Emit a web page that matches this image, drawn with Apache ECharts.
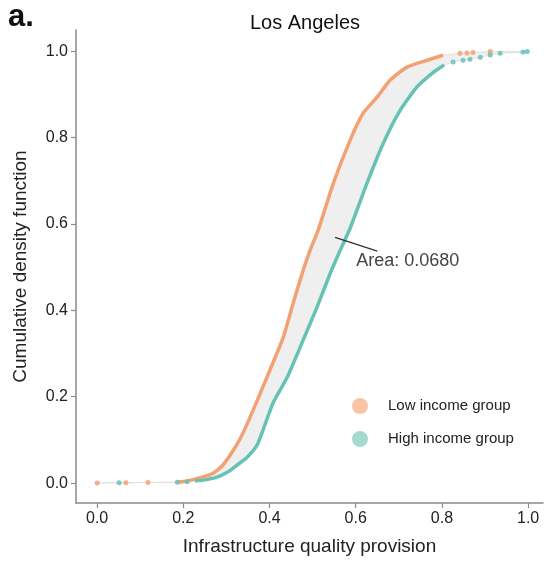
<!DOCTYPE html>
<html>
<head>
<meta charset="utf-8">
<script src="https://cdn.jsdelivr.net/npm/echarts@6/dist/echarts.min.js"></script>
<style>html,body{margin:0;padding:0;background:#fff;}#c{width:544px;height:562px;}</style>
</head>
<body>
<div id="c"></div>
<script>
// ---- data ----
const xTicks = [0, 0.2, 0.4, 0.6, 0.8, 1.0];
const yTicks = [0, 0.2, 0.4, 0.6, 0.8, 1.0];

// Low income group: dense part of the empirical CDF
const lowX = [0.186,0.209,0.244,0.269,0.292,0.316,0.336,0.362,0.401,0.432,0.455,0.476,0.494,0.513,0.548,0.587,0.617,0.650,0.680,0.719,0.766,0.803];
const lowY = [0.002,0.005,0.014,0.023,0.042,0.076,0.111,0.169,0.262,0.338,0.417,0.486,0.539,0.586,0.694,0.794,0.856,0.894,0.933,0.963,0.979,0.991];
// Low income group: isolated points in the tails
const lowTailX = [0.000,0.067,0.118,0.842,0.858,0.872,0.912];
const lowTailY = [0.0005,0.001,0.0015,0.995,0.996,0.997,0.999];

// High income group: dense part
const highX = [0.227,0.246,0.278,0.302,0.325,0.348,0.371,0.385,0.408,0.441,0.478,0.510,0.541,0.564,0.587,0.626,0.664,0.703,0.742,0.780,0.805];
const highY = [0.005,0.007,0.014,0.025,0.042,0.060,0.088,0.123,0.185,0.245,0.331,0.407,0.486,0.539,0.590,0.694,0.787,0.863,0.917,0.951,0.968];
// High income group: isolated tail points
const highTailX = [0.051,0.186,0.209,0.826,0.849,0.865,0.889,0.912,0.935,0.988,0.998];
const highTailY = [0.001,0.002,0.003,0.975,0.979,0.981,0.986,0.991,0.995,0.998,0.999];

const areaText = 'Area: 0.0680';
const annoFrom = [0.552, 0.569];
const annoTo = [0.650, 0.537];
const annoTextAt = [0.601, 0.514];

// ---- build ----
const zip = (xs, ys) => xs.map((x, i) => [x, ys[i]]);
const lowMain = zip(lowX, lowY), lowTail = zip(lowTailX, lowTailY);
const highMain = zip(highX, highY), highTail = zip(highTailX, highTailY);
const lowAll = lowMain.concat(lowTail).sort((a, b) => a[0] - b[0]);
const highAll = highMain.concat(highTail).sort((a, b) => a[0] - b[0]);

const ORANGE = '#F3A172', TEAL = '#67C2B6';
const chart = echarts.init(document.getElementById('c'));
const font = 'Liberation Sans, Arial, sans-serif';

chart.setOption({
  animation: false,
  backgroundColor: '#fff',
  title: {
    text: 'Los Angeles', left: 300, top: 8, textAlign: 'center',
    textStyle: {fontFamily: font, fontSize: 20, fontWeight: 'normal', color: '#111'}
  },
  graphic: [{
    type: 'text', left: 8, top: 2,
    style: {text: 'a.', font: 'bold 31px ' + font, fill: '#111'}
  }],
  legend: {
    orient: 'vertical', left: 347, top: 393, icon: 'circle',
    itemWidth: 46, itemHeight: 16, itemGap: 17,
    textStyle: {fontFamily: font, fontSize: 15, color: '#222'},
    data: [
      {name: 'Low income group', itemStyle: {color: '#F8C4A5'}},
      {name: 'High income group', itemStyle: {color: '#A7D9D3'}}
    ]
  },
  grid: {left: 76, right: 1, top: 30, bottom: 59},
  xAxis: {
    type: 'value', min: -0.049, max: 1.0345,
    name: 'Infrastructure quality provision', nameLocation: 'middle', nameGap: 34,
    nameTextStyle: {fontFamily: font, fontSize: 19, color: '#222'},
    axisLine: {onZero: false, lineStyle: {color: '#8a8a8a', width: 1.5}},
    axisTick: {length: 5, lineStyle: {color: '#8a8a8a', width: 1.2}, customValues: xTicks},
    axisLabel: {customValues: xTicks, margin: 8, fontFamily: font, fontSize: 16, color: '#222',
      formatter: v => v.toFixed(1)},
    splitLine: {show: false}
  },
  yAxis: {
    type: 'value', min: -0.046, max: 1.049,
    name: 'Cumulative density function', nameLocation: 'middle', nameGap: 46,
    nameTextStyle: {fontFamily: font, fontSize: 19, color: '#222'},
    axisLine: {onZero: false, lineStyle: {color: '#8a8a8a', width: 1.5}},
    axisTick: {length: 5, lineStyle: {color: '#8a8a8a', width: 1.2}, customValues: yTicks},
    axisLabel: {customValues: yTicks, margin: 8, fontFamily: font, fontSize: 16, color: '#222',
      formatter: v => v.toFixed(1)},
    splitLine: {show: false}
  },
  series: [
    {
      type: 'custom', name: 'fill', z: 1, silent: true, data: [[0, 0]],
      renderItem: (params, api) => {
        const pts = lowAll.map(p => api.coord(p)).concat(highAll.slice().reverse().map(p => api.coord(p)));
        return {type: 'polygon', shape: {points: pts},
          style: {fill: '#EFEFEF', stroke: '#E2E2E2', lineWidth: 1}};
      }
    },
    {
      type: 'line', name: 'Low income group', data: lowMain, z: 3, smooth: 0.2,
      showSymbol: false, lineStyle: {color: ORANGE, width: 3.5}, itemStyle: {color: ORANGE}
    },
    {
      type: 'scatter', name: 'Low income group', data: lowTail, z: 3,
      symbolSize: 5, itemStyle: {color: ORANGE, opacity: 0.85}
    },
    {
      type: 'line', name: 'High income group', data: highMain, z: 3, smooth: 0.2,
      showSymbol: false, lineStyle: {color: TEAL, width: 3.5}, itemStyle: {color: TEAL}
    },
    {
      type: 'scatter', name: 'High income group', data: highTail, z: 3,
      symbolSize: 5, itemStyle: {color: TEAL, opacity: 0.85}
    },
    {
      type: 'custom', name: 'annotation', z: 5, silent: true, data: [[0, 0]],
      renderItem: (params, api) => {
        const a = api.coord(annoFrom), b = api.coord(annoTo), t = api.coord(annoTextAt);
        return {type: 'group', children: [
          {type: 'line', shape: {x1: a[0], y1: a[1], x2: b[0], y2: b[1]},
            style: {stroke: '#333', lineWidth: 1.2}},
          {type: 'text', x: t[0], y: t[1],
            style: {text: areaText, font: '18px ' + font, fill: '#444',
              textAlign: 'left', textVerticalAlign: 'middle'}}
        ]};
      }
    }
  ]
});
</script>
</body>
</html>
